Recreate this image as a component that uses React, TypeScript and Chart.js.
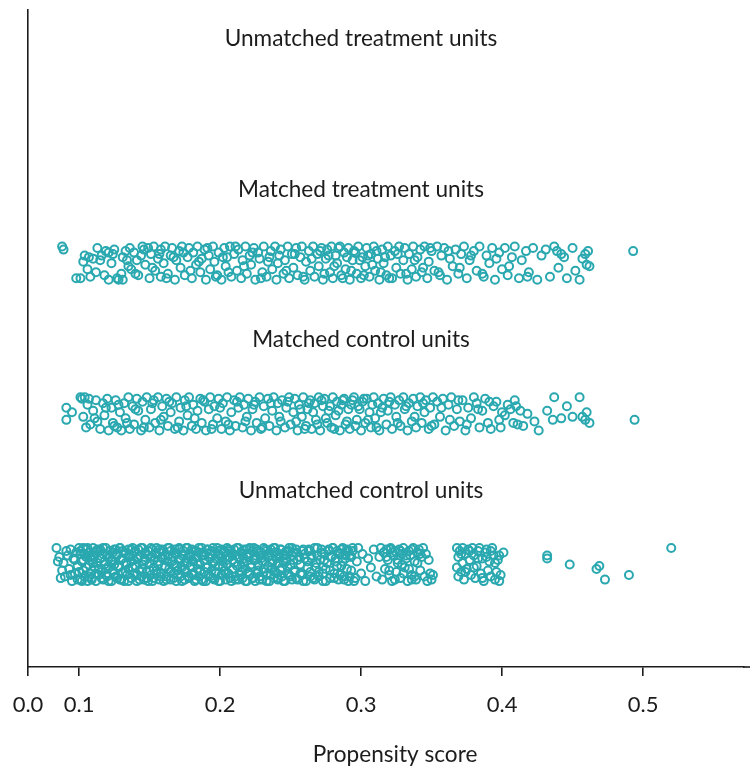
import React, { useEffect, useRef } from "react";
import { Chart, registerables } from "chart.js";

Chart.register(...registerables);

// Row labels (y positions: 1 = bottom row ... 4 = top row)
const rowLabels = [
  "Unmatched control units",
  "Matched control units",
  "Matched treatment units",
  "Unmatched treatment units",
];

const xTickValues = [0.1, 0.2, 0.3, 0.4, 0.5];
const xMin = 0.0638;
const xMax = 0.5716;
const xTitle = "Propensity score";

// [propensity score, vertical jitter]
const unmatchedTreatment: number[][] = [];

const matchedTreatment: number[][] = [
  [0.088,0.11],[0.089,0.09],[0.098,-0.10],[0.101,-0.10],[0.103,0.01],[0.104,0.05],[0.107,0.04],[0.108,-0.09],[0.110,0.03],[0.112,-0.06],
  [0.115,0.02],[0.116,0.05],[0.119,0.08],[0.121,0.07],[0.121,-0.11],[0.123,0.00],[0.125,0.09],[0.127,-0.10],[0.128,-0.11],[0.130,-0.07],
  [0.131,0.04],[0.133,0.08],[0.135,-0.02],[0.136,0.10],[0.137,-0.04],[0.139,0.07],[0.141,0.02],[0.142,-0.08],[0.144,0.05],[0.145,0.11],
  [0.147,-0.01],[0.149,0.10],[0.150,-0.10],[0.151,0.06],[0.153,0.11],[0.154,-0.05],[0.156,0.03],[0.158,0.09],[0.158,-0.09],[0.160,0.00],
  [0.161,0.11],[0.163,-0.07],[0.165,0.05],[0.166,0.10],[0.168,-0.11],[0.169,0.02],[0.171,0.08],[0.172,-0.03],[0.173,0.11],[0.175,-0.08],
  [0.177,0.04],[0.178,0.10],[0.180,-0.10],[0.181,0.07],[0.183,-0.01],[0.184,0.11],[0.186,-0.06],[0.187,0.03],[0.189,0.09],[0.190,-0.11],
  [0.192,0.05],[0.193,-0.04],[0.195,0.11],[0.196,0.01],[0.198,-0.08],[0.199,0.07],[0.201,-0.11],[0.203,0.10],[0.204,-0.02],[0.205,0.04],
  [0.207,0.11],[0.208,-0.09],[0.210,0.06],[0.212,-0.05],[0.213,0.09],[0.215,-0.10],[0.216,0.02],[0.218,0.11],[0.219,-0.07],[0.221,0.05],
  [0.222,-0.01],[0.224,0.10],[0.225,-0.11],[0.227,0.07],[0.228,0.03],[0.230,-0.06],[0.231,0.11],[0.233,-0.09],[0.234,0.01],[0.236,0.08],
  [0.237,-0.04],[0.239,0.11],[0.240,-0.11],[0.242,0.05],[0.243,0.09],[0.245,-0.07],[0.246,0.02],[0.248,0.11],[0.249,-0.10],[0.251,0.06],
  [0.252,-0.03],[0.254,0.10],[0.255,-0.08],[0.257,0.04],[0.258,0.11],[0.260,-0.11],[0.261,0.01],[0.263,0.08],[0.264,-0.05],[0.266,0.11],
  [0.267,-0.09],[0.269,0.06],[0.270,-0.02],[0.272,0.10],[0.273,-0.11],[0.275,0.03],[0.276,0.09],[0.278,-0.06],[0.279,0.11],[0.280,-0.10],
  [0.282,0.05],[0.283,0.00],[0.285,0.11],[0.286,-0.08],[0.288,0.07],[0.289,-0.04],[0.291,0.10],[0.292,-0.11],[0.294,0.02],[0.295,0.08],
  [0.297,-0.07],[0.298,0.11],[0.300,-0.10],[0.301,0.04],[0.303,-0.02],[0.304,0.10],[0.306,-0.09],[0.307,0.06],[0.309,0.11],[0.310,-0.05],
  [0.312,0.03],[0.313,-0.11],[0.315,0.09],[0.316,0.00],[0.318,-0.08],[0.319,0.11],[0.321,0.05],[0.322,-0.10],[0.324,0.08],[0.325,-0.03],
  [0.327,0.11],[0.328,-0.07],[0.330,0.02],[0.331,0.10],[0.333,-0.11],[0.334,0.06],[0.336,-0.04],[0.337,0.11],[0.339,-0.09],[0.340,0.04],
  [0.342,0.09],[0.343,-0.06],[0.345,0.11],[0.347,-0.10],[0.348,0.01],[0.350,0.08],[0.352,-0.05],[0.354,0.11],[0.356,-0.08],[0.357,0.05],
  [0.359,0.10],[0.361,-0.11],[0.363,0.03],[0.365,-0.02],[0.367,0.09],[0.369,-0.07],[0.371,0.06],[0.373,0.11],[0.375,-0.10],[0.377,0.02],
  [0.380,0.08],[0.382,-0.05],[0.384,0.11],[0.387,-0.09],[0.389,0.05],[0.391,0.00],[0.393,0.10],[0.395,-0.11],[0.398,0.07],[0.400,-0.04],
  [0.402,0.10],[0.404,-0.08],[0.407,0.04],[0.409,0.11],[0.412,-0.10],[0.414,0.02],[0.417,0.08],[0.419,-0.06],[0.422,0.10],[0.425,-0.11],
  [0.428,0.05],[0.431,0.09],[0.434,-0.09],[0.437,0.11],[0.440,-0.03],[0.442,0.06],[0.444,0.04],[0.446,-0.10],[0.450,0.10],[0.452,-0.05],
  [0.455,-0.11],[0.457,0.03],[0.459,0.06],[0.460,-0.01],[0.461,0.08],[0.462,-0.02],[0.493,0.08],
  [0.106,-0.04],[0.113,0.10],[0.118,-0.08],[0.124,0.06],[0.131,-0.11],[0.134,0.02],[0.140,-0.07],[0.146,0.09],[0.152,-0.03],[0.157,0.06],
  [0.162,-0.10],[0.167,0.04],[0.174,0.07],[0.179,-0.05],[0.185,0.01],[0.191,0.10],[0.197,-0.09],[0.202,0.04],[0.206,-0.06],[0.211,0.11],
  [0.217,-0.02],[0.223,0.07],[0.229,-0.10],[0.235,0.04],[0.241,0.00],[0.247,-0.05],[0.253,0.06],[0.259,-0.09],[0.265,0.03],[0.271,0.08],
  [0.274,-0.07],[0.277,0.05],[0.281,-0.02],[0.284,0.10],[0.287,-0.10],[0.290,0.04],[0.293,-0.05],[0.296,0.07],[0.299,0.02],[0.302,-0.08],
  [0.305,0.05],[0.308,-0.01],[0.311,0.08],[0.314,-0.06],[0.317,0.04],[0.320,-0.10],[0.326,0.06],[0.332,-0.07],[0.338,0.02],[0.344,-0.03],
  [0.349,0.10],[0.355,-0.06],[0.362,0.08],[0.370,-0.03],[0.378,0.05],[0.386,-0.07],[0.396,0.03],[0.405,-0.02],[0.418,-0.09],[0.439,0.08],
];

const matchedControl: number[][] = [
  [0.091,0.04],[0.091,-0.04],[0.095,0.01],[0.101,0.11],[0.102,0.10],[0.103,-0.02],[0.104,0.11],[0.105,-0.09],[0.106,0.06],[0.108,-0.07],
  [0.110,0.02],[0.112,0.09],[0.113,-0.05],[0.115,-0.10],[0.117,0.07],[0.118,-0.01],[0.120,0.10],[0.121,-0.11],[0.123,0.04],[0.124,-0.06],
  [0.126,0.09],[0.127,-0.09],[0.129,0.01],[0.130,-0.11],[0.132,0.07],[0.133,-0.03],[0.135,0.11],[0.136,-0.10],[0.138,0.05],[0.139,-0.07],
  [0.141,0.10],[0.142,0.02],[0.144,-0.11],[0.145,0.08],[0.147,-0.04],[0.148,0.11],[0.150,-0.09],[0.151,0.03],[0.153,0.09],[0.154,-0.06],
  [0.156,0.11],[0.157,-0.11],[0.159,0.05],[0.160,-0.02],[0.162,0.10],[0.163,-0.08],[0.165,0.01],[0.166,0.07],[0.168,-0.10],[0.169,0.11],
  [0.171,-0.05],[0.172,0.04],[0.174,-0.11],[0.175,0.09],[0.177,-0.01],[0.178,0.11],[0.180,-0.08],[0.181,0.06],[0.183,-0.10],[0.184,0.02],
  [0.186,0.10],[0.187,-0.06],[0.189,0.08],[0.190,-0.11],[0.192,0.03],[0.193,0.11],[0.195,-0.07],[0.196,0.05],[0.198,-0.03],[0.199,0.10],
  [0.201,-0.10],[0.202,0.07],[0.204,-0.05],[0.205,0.11],[0.207,-0.11],[0.208,0.01],[0.210,0.09],[0.211,-0.08],[0.213,0.04],[0.214,0.11],
  [0.216,-0.09],[0.217,0.06],[0.219,-0.02],[0.220,0.10],[0.222,-0.11],[0.223,0.03],[0.225,0.08],[0.226,-0.06],[0.228,0.11],[0.229,-0.10],
  [0.231,0.05],[0.232,-0.03],[0.234,0.10],[0.235,-0.08],[0.237,0.02],[0.238,0.11],[0.240,-0.11],[0.241,0.07],[0.243,-0.05],[0.244,0.09],
  [0.246,-0.09],[0.247,0.04],[0.249,0.11],[0.250,-0.07],[0.252,0.01],[0.253,0.10],[0.255,-0.11],[0.256,0.06],[0.258,-0.02],[0.259,0.11],
  [0.261,-0.08],[0.262,0.03],[0.264,0.09],[0.265,-0.10],[0.267,0.07],[0.268,-0.04],[0.270,0.11],[0.271,-0.11],[0.273,0.05],[0.274,0.10],
  [0.276,-0.06],[0.277,0.02],[0.279,-0.09],[0.280,0.11],[0.282,-0.01],[0.283,0.08],[0.285,-0.11],[0.286,0.06],[0.288,0.10],[0.289,-0.07],
  [0.291,0.03],[0.292,-0.10],[0.294,0.09],[0.295,0.11],[0.297,-0.04],[0.298,0.05],[0.300,-0.11],[0.301,0.08],[0.303,-0.06],[0.304,0.10],
  [0.306,0.01],[0.307,-0.09],[0.309,0.11],[0.310,-0.03],[0.312,0.07],[0.313,-0.11],[0.315,0.04],[0.316,0.10],[0.318,-0.07],[0.319,0.02],
  [0.321,0.11],[0.322,-0.10],[0.324,0.06],[0.325,-0.02],[0.327,0.09],[0.328,-0.08],[0.330,0.11],[0.331,0.03],[0.333,-0.11],[0.334,0.07],
  [0.336,-0.05],[0.337,0.10],[0.339,-0.09],[0.340,0.05],[0.342,0.11],[0.343,-0.06],[0.345,0.01],[0.346,0.09],[0.348,-0.10],[0.349,0.04],
  [0.351,0.11],[0.352,-0.07],[0.354,0.08],[0.356,-0.02],[0.358,0.10],[0.360,-0.11],[0.362,0.06],[0.364,0.11],[0.366,-0.08],[0.368,0.03],
  [0.370,-0.05],[0.372,0.09],[0.374,-0.11],[0.376,0.04],[0.378,-0.03],[0.380,0.11],[0.382,0.07],[0.384,-0.09],[0.386,0.02],[0.388,0.10],
  [0.390,-0.06],[0.392,-0.10],[0.394,0.05],[0.396,0.08],[0.398,-0.04],[0.400,0.01],[0.402,-0.01],[0.404,0.06],[0.406,0.03],[0.408,-0.06],
  [0.410,0.05],[0.411,-0.07],[0.413,0.02],[0.415,-0.08],[0.418,0.00],[0.423,-0.05],[0.426,-0.11],[0.432,0.02],[0.436,-0.04],[0.437,0.11],
  [0.442,-0.03],[0.446,0.05],[0.450,-0.02],[0.455,0.11],[0.457,-0.02],[0.459,-0.04],[0.460,0.01],[0.462,-0.06],[0.494,-0.04],
  [0.107,0.10],[0.111,-0.03],[0.119,0.04],[0.125,-0.08],[0.128,0.06],[0.134,-0.06],[0.140,0.03],[0.146,-0.09],[0.152,0.07],[0.158,-0.04],
  [0.164,0.08],[0.170,-0.09],[0.176,0.05],[0.182,-0.03],[0.188,0.09],[0.194,-0.10],[0.200,0.04],[0.206,-0.07],[0.212,0.08],[0.218,-0.05],
  [0.224,0.06],[0.230,-0.09],[0.236,0.07],[0.242,-0.02],[0.248,0.08],[0.254,-0.05],[0.257,0.03],[0.260,-0.10],[0.263,0.07],[0.266,0.01],
  [0.269,-0.07],[0.272,0.09],[0.275,-0.03],[0.278,0.05],[0.281,-0.10],[0.284,0.02],[0.287,0.09],[0.290,-0.05],[0.293,0.06],[0.296,-0.08],
  [0.299,0.03],[0.302,0.10],[0.305,-0.04],[0.308,0.06],[0.311,-0.09],[0.314,0.01],[0.320,0.08],[0.326,-0.06],[0.332,0.05],[0.338,-0.02],
  [0.344,0.07],[0.350,-0.08],[0.357,0.04],[0.363,-0.04],[0.369,0.09],[0.375,-0.07],[0.383,0.03],[0.391,0.08],[0.399,-0.09],[0.409,0.09],
];

const unmatchedControl: number[][] = [
  [0.084,0.11],[0.085,0.02],[0.087,-0.09],[0.089,0.01],[0.090,-0.08],[0.092,0.06],[0.093,-0.03],[0.094,0.10],[0.095,-0.11],[0.096,0.04],
  [0.097,-0.06],[0.098,0.08],[0.099,-0.01],[0.100,0.11],
  [0.086,0.05],[0.088,-0.04],[0.091,0.09],[0.094,-0.07],[0.097,0.03],[0.099,-0.10],
  [0.101,0.07],[0.101,-0.10],[0.102,0.02],[0.103,0.11],[0.103,-0.04],[0.104,-0.08],[0.105,0.05],[0.105,0.10],[0.106,-0.11],[0.107,0.00],
  [0.107,0.08],[0.108,-0.06],[0.109,0.03],[0.109,-0.09],[0.110,0.11],[0.111,-0.02],[0.111,0.06],[0.112,-0.11],[0.113,0.09],[0.113,0.01],
  [0.114,-0.07],[0.115,0.04],[0.115,0.10],[0.116,-0.05],[0.117,-0.10],[0.117,0.07],[0.118,0.02],[0.119,-0.03],[0.119,0.11],[0.120,-0.08],
  [0.121,0.05],[0.121,-0.01],[0.122,0.09],[0.123,-0.11],[0.123,0.03],[0.124,0.08],[0.125,-0.06],[0.125,0.00],[0.126,0.10],[0.127,-0.09],
  [0.127,0.06],[0.128,-0.02],[0.129,0.11],[0.129,-0.10],[0.130,0.04],[0.131,-0.05],[0.131,0.09],[0.132,-0.11],[0.133,0.01],[0.133,0.07],
  [0.134,-0.07],[0.135,0.10],[0.135,-0.03],[0.136,0.05],[0.137,-0.09],[0.137,0.02],[0.138,0.11],[0.139,-0.06],[0.139,0.08],[0.140,-0.01],
  [0.141,-0.11],[0.141,0.04],[0.142,0.10],[0.143,-0.04],[0.143,0.06],[0.144,-0.08],[0.145,0.00],[0.145,0.11],[0.146,-0.10],[0.147,0.07],
  [0.147,0.03],[0.148,-0.05],[0.149,0.09],[0.149,-0.11],[0.150,0.01],[0.151,-0.07],[0.151,0.05],[0.152,0.10],[0.153,-0.02],[0.153,-0.09],
  [0.154,0.07],[0.155,0.11],[0.155,-0.04],[0.156,0.02],[0.157,-0.10],[0.157,0.08],[0.158,-0.06],[0.159,0.04],[0.159,0.10],[0.160,-0.11],
  [0.161,-0.01],[0.161,0.06],[0.162,-0.08],[0.163,0.11],[0.163,0.02],[0.164,-0.03],[0.165,0.09],[0.165,-0.10],[0.166,0.05],[0.167,-0.06],
  [0.167,0.00],[0.168,0.10],[0.169,-0.11],[0.169,0.07],[0.170,-0.04],[0.171,0.03],[0.171,0.11],[0.172,-0.08],[0.173,0.06],[0.173,-0.02],
  [0.174,0.09],[0.175,-0.10],[0.175,0.01],[0.176,-0.05],[0.177,0.11],[0.177,0.04],[0.178,-0.09],[0.179,0.07],[0.179,-0.01],[0.180,0.10],
  [0.181,-0.07],[0.181,0.02],[0.182,-0.11],[0.183,0.05],[0.183,0.09],[0.184,-0.03],[0.185,0.11],[0.185,-0.08],[0.186,0.00],[0.187,0.06],
  [0.187,-0.10],[0.188,0.08],[0.189,-0.05],[0.189,0.03],[0.190,-0.11],[0.191,0.10],[0.191,-0.02],[0.192,0.05],[0.193,-0.08],[0.193,0.07],
  [0.194,-0.04],[0.195,0.11],[0.195,0.01],[0.196,-0.10],[0.197,0.04],[0.197,-0.06],[0.198,0.09],[0.199,-0.01],[0.199,-0.11],[0.200,0.06],
  [0.201,0.10],[0.201,-0.07],[0.202,0.02],[0.203,-0.04],[0.203,0.08],[0.204,-0.10],[0.205,0.11],[0.205,0.00],[0.206,-0.06],[0.207,0.05],
  [0.207,0.09],[0.208,-0.11],[0.209,0.03],[0.209,-0.03],[0.210,0.10],[0.211,-0.08],[0.211,0.06],[0.212,-0.01],[0.213,0.11],[0.213,-0.10],
  [0.214,0.04],[0.215,-0.05],[0.215,0.08],[0.216,-0.09],[0.217,0.01],[0.217,0.10],[0.218,-0.03],[0.219,0.07],[0.219,-0.11],[0.220,0.05],
  [0.221,-0.06],[0.221,0.11],[0.222,-0.02],[0.223,0.09],[0.223,-0.09],[0.224,0.03],[0.225,-0.11],[0.225,0.06],[0.226,0.10],[0.227,-0.04],
  [0.227,0.00],[0.228,-0.08],[0.229,0.08],[0.229,0.04],[0.230,-0.10],[0.231,0.11],[0.231,-0.05],[0.232,0.02],[0.233,-0.07],[0.233,0.09],
  [0.234,-0.01],[0.235,0.06],[0.235,-0.11],[0.236,0.10],[0.237,-0.03],[0.237,0.03],[0.238,-0.09],[0.239,0.08],[0.239,0.11],[0.240,-0.06],
  [0.241,0.01],[0.241,-0.10],[0.242,0.05],[0.243,0.10],[0.243,-0.04],[0.244,-0.08],[0.245,0.07],[0.245,0.02],[0.246,-0.11],[0.247,0.04],
  [0.247,0.09],[0.248,-0.02],[0.249,-0.07],[0.249,0.11],[0.250,0.00],[0.251,0.06],[0.251,-0.10],[0.252,0.08],[0.253,-0.05],[0.254,0.10],
  [0.254,-0.09],[0.255,0.03],
  [0.100,-0.05],[0.101,0.09],[0.102,-0.11],[0.103,0.03],[0.104,0.07],[0.105,-0.02],[0.106,0.11],[0.107,-0.08],[0.108,0.05],[0.109,-0.10],
  [0.110,0.01],[0.111,0.08],[0.112,-0.06],[0.113,0.10],[0.114,-0.03],[0.115,0.04],[0.116,-0.09],[0.117,0.11],[0.118,0.00],[0.119,-0.07],
  [0.120,0.06],[0.121,-0.11],[0.122,0.09],[0.123,0.02],[0.124,-0.04],[0.125,0.10],[0.126,-0.08],[0.127,0.07],[0.128,-0.01],[0.129,0.11],
  [0.130,-0.10],[0.131,0.04],[0.132,0.08],[0.133,-0.05],[0.134,0.00],[0.135,-0.11],[0.136,0.06],[0.137,0.10],[0.138,-0.02],[0.139,0.03],
  [0.140,0.09],[0.141,-0.07],[0.142,0.05],[0.143,-0.10],[0.144,0.11],[0.145,-0.03],[0.146,0.02],[0.147,0.08],[0.148,-0.09],[0.149,0.06],
  [0.150,-0.04],[0.151,0.11],[0.152,-0.11],[0.153,0.03],[0.154,0.07],[0.155,-0.06],[0.156,0.00],[0.157,0.10],[0.158,-0.08],[0.159,0.05],
  [0.160,0.09],[0.161,-0.02],[0.162,-0.10],[0.163,0.06],[0.164,0.11],[0.165,-0.05],[0.166,0.02],[0.167,-0.09],[0.168,0.08],[0.169,-0.01],
  [0.170,-0.07],[0.171,0.10],[0.172,0.04],[0.173,-0.11],[0.174,0.07],[0.175,-0.03],[0.176,0.11],[0.177,0.01],[0.178,-0.08],[0.179,0.05],
  [0.180,0.03],[0.181,-0.06],[0.182,0.09],[0.183,-0.10],[0.184,0.00],[0.185,0.08],[0.186,-0.04],[0.187,0.11],[0.188,-0.11],[0.189,0.06],
  [0.190,-0.02],[0.191,0.10],[0.192,-0.07],[0.193,0.04],[0.194,0.09],[0.195,-0.09],[0.196,0.02],[0.197,-0.05],[0.198,0.11],[0.199,0.07],
  [0.200,-0.11],[0.201,0.05],[0.202,-0.01],[0.203,0.09],[0.204,-0.06],[0.205,0.03],[0.206,0.10],[0.207,-0.09],[0.208,0.07],[0.209,-0.03],
  [0.210,0.01],[0.211,-0.10],[0.212,0.11],[0.213,0.05],[0.214,-0.07],[0.215,0.08],[0.216,-0.02],[0.217,0.04],[0.218,-0.11],[0.219,0.10],
  [0.220,-0.05],[0.221,0.07],[0.222,0.00],[0.223,-0.09],[0.224,0.11],[0.225,0.03],[0.226,-0.06],[0.227,0.09],[0.228,-0.10],[0.229,0.06],
  [0.230,0.02],[0.231,-0.03],[0.232,0.10],[0.233,-0.11],[0.234,0.05],[0.235,0.08],[0.236,-0.07],[0.237,0.01],[0.238,0.11],[0.239,-0.05],
  [0.240,0.04],[0.241,-0.09],[0.242,0.07],[0.243,0.10],[0.244,-0.02],[0.245,-0.11],[0.246,0.06],[0.247,0.02],[0.248,-0.06],[0.249,0.09],
  [0.250,-0.08],[0.251,0.11],[0.252,0.03],[0.253,-0.04],[0.254,0.08],[0.255,-0.10],[0.256,0.05],[0.257,0.00],[0.258,-0.07],[0.259,0.10],
  [0.260,0.07],[0.261,-0.11],[0.262,0.02],[0.263,0.09],[0.264,-0.05],[0.265,0.04],[0.266,-0.09],[0.267,0.11],[0.268,-0.02],[0.269,0.06],
  [0.270,-0.08],[0.271,0.03],[0.272,0.10],[0.273,-0.06],[0.274,0.07],[0.275,-0.11],[0.276,0.01],[0.277,0.09],[0.278,-0.04],[0.279,0.05],
  [0.280,0.11],[0.281,-0.09],[0.282,0.04],[0.283,-0.01],[0.284,0.08],[0.285,-0.07],[0.286,0.10],[0.287,0.02],[0.288,-0.10],[0.289,0.06],
  [0.290,-0.03],[0.291,0.09],[0.292,-0.08],[0.293,0.05],[0.294,0.11],[0.295,-0.11],
  [0.257,-0.06],[0.258,0.09],[0.259,-0.11],[0.260,0.04],[0.262,-0.02],[0.263,0.10],[0.264,-0.08],[0.265,0.06],[0.267,-0.10],[0.268,0.01],
  [0.269,0.11],[0.270,-0.05],[0.272,0.08],[0.273,-0.11],[0.274,0.03],[0.275,-0.03],[0.277,0.10],[0.278,-0.09],[0.279,0.05],[0.280,0.11],
  [0.281,-0.06],[0.282,0.02],[0.283,0.09],[0.284,-0.10],[0.285,0.07],[0.286,-0.01],[0.287,0.11],[0.288,-0.08],[0.289,0.04],[0.290,0.10],
  [0.291,-0.11],[0.292,0.06],[0.293,-0.04],[0.294,0.09],[0.296,-0.09],[0.297,0.02],[0.298,0.11],[0.300,-0.06],[0.301,0.07],[0.303,-0.11],
  [0.305,0.04],[0.307,-0.02],[0.309,0.10],[0.311,-0.08],[0.313,0.05],[0.314,0.11],[0.315,-0.10],[0.316,0.08],[0.317,-0.03],[0.318,0.10],
  [0.319,0.03],[0.320,-0.07],[0.321,0.11],[0.322,-0.11],[0.323,0.06],[0.324,0.09],[0.325,-0.05],[0.326,0.01],[0.327,0.10],[0.328,-0.09],
  [0.329,0.07],[0.330,0.11],[0.331,-0.02],[0.332,0.04],[0.333,-0.11],[0.334,0.09],[0.335,0.06],[0.336,-0.07],[0.337,0.11],[0.338,0.02],
  [0.339,-0.10],[0.340,0.08],[0.341,0.10],[0.342,-0.04],[0.343,0.05],[0.344,0.11],[0.345,-0.08],[0.346,0.07],[0.347,-0.11],[0.348,0.03],
  [0.349,-0.06],[0.350,-0.10],[0.351,-0.07],
  [0.318,0.05],[0.320,-0.04],[0.322,0.08],[0.324,-0.10],[0.326,0.03],[0.328,0.09],[0.330,-0.06],[0.332,0.06],[0.334,-0.03],[0.336,0.10],
  [0.338,-0.08],[0.340,0.01],[0.342,0.07],[0.336,-0.10],[0.329,0.00],[0.321,0.10],
  [0.368,0.11],[0.368,-0.02],[0.369,0.05],[0.369,-0.08],[0.370,0.09],[0.371,-0.05],[0.372,0.01],[0.372,0.11],[0.373,-0.10],[0.374,0.07],
  [0.375,-0.03],[0.376,0.10],[0.377,0.03],[0.378,-0.07],[0.379,0.11],[0.380,0.06],[0.381,-0.09],[0.382,-0.01],[0.383,0.09],[0.384,0.11],
  [0.385,-0.06],[0.386,0.04],[0.387,-0.11],[0.388,0.08],[0.389,0.10],[0.390,-0.04],[0.391,0.02],[0.392,-0.08],[0.393,0.11],[0.394,0.06],
  [0.395,-0.10],[0.396,-0.05],[0.397,0.03],[0.398,-0.11],[0.399,-0.07],[0.401,0.08],
  [0.371,0.07],[0.374,-0.05],[0.377,0.09],[0.380,-0.02],[0.383,0.04],[0.386,-0.09],[0.389,0.05],[0.392,0.09],[0.395,0.01],[0.398,0.06],
  [0.432,0.06],[0.432,0.04],[0.448,0.00],[0.467,-0.03],[0.469,-0.01],[0.473,-0.10],[0.490,-0.07],[0.520,0.11],
];

const pointColor = "#2aa8b0";
const inkColor = "#1c1c1c";
const fontFamily = "Lato";
const fontSize = 22;
const labelFontSize = 22.6;

function toPoints(rows: number[][], row: number) {
  return rows.map(([x, j]) => ({ x, y: row + j }));
}

const textPlugin = {
  id: "rowLabels",
  afterDraw(chart: any) {
    const { ctx, scales, chartArea } = chart;
    const xs = scales.x;
    const ys = scales.y;
    ctx.save();
    // extend the x axis line to the right edge of the canvas
    ctx.strokeStyle = inkColor;
    ctx.lineWidth = 1.6;
    ctx.beginPath();
    ctx.moveTo(chartArea.right - 1, chartArea.bottom);
    ctx.lineTo(chart.width, chartArea.bottom);
    ctx.stroke();

    ctx.font = `${labelFontSize}px ${fontFamily}`;
    ctx.fillStyle = inkColor;
    ctx.textAlign = "center";
    ctx.textBaseline = "middle";
    rowLabels.forEach((label, i) => {
      ctx.fillText(label, xs.getPixelForValue(0.3), ys.getPixelForValue(i + 1 + 0.49));
    });
    // axis title
    ctx.fillText(xTitle, (chartArea.left + chart.width) / 2 + 6, chartArea.bottom + 88);
    ctx.restore();
  },
};

export default function App() {
  const canvasRef = useRef<HTMLCanvasElement | null>(null);

  useEffect(() => {
    document.body.style.margin = "0";
    const canvas = canvasRef.current;
    if (!canvas) return;
    const ds = (data: number[][], row: number) => ({
      data: toPoints(data, row),
      pointStyle: "circle",
      pointRadius: 4,
      pointBorderWidth: 2,
      pointBorderColor: pointColor,
      pointBackgroundColor: "rgba(0,0,0,0)",
      showLine: false,
    });
    const chart = new Chart(canvas, {
      type: "scatter",
      data: {
        datasets: [
          ds(unmatchedControl, 1),
          ds(matchedControl, 2),
          ds(matchedTreatment, 3),
          ds(unmatchedTreatment, 4),
        ],
      },
      options: {
        animation: false,
        responsive: false,
        maintainAspectRatio: false,
        devicePixelRatio: 1,
        layout: { padding: { top: 10, right: 0, left: 0, bottom: 0 } },
        plugins: {
          legend: { display: false },
          tooltip: { enabled: false },
        },
        scales: {
          x: {
            type: "linear",
            min: xMin,
            max: xMax,
            afterBuildTicks(scale: any) {
              scale.ticks = [{ value: xMin }, ...xTickValues.map((v) => ({ value: v }))];
            },
            afterFit(scale: any) {
              scale.height = 100;
              scale.paddingLeft = 0;
              scale.paddingRight = 0;
            },
            ticks: {
              autoSkip: false,
              maxRotation: 0,
              padding: 16,
              color: inkColor,
              font: { family: fontFamily, size: fontSize },
              callback: (v: any) => (Number(v) < 0.07 ? "0.0" : Number(v).toFixed(1)),
            },
            grid: {
              drawOnChartArea: false,
              drawTicks: true,
              tickLength: 9,
              color: inkColor,
              lineWidth: 1.6,
            },
            border: { display: true, color: inkColor, width: 1.6 },
            title: { display: false },
          },
          y: {
            type: "linear",
            min: 0.32,
            max: 4.68,
            afterFit(scale: any) {
              scale.width = 28;
            },
            ticks: { display: false },
            grid: { display: false },
            border: { display: true, color: inkColor, width: 1.6 },
          },
        },
      },
      plugins: [textPlugin],
    } as any);
    return () => chart.destroy();
  }, []);

  return (
    <div style={{ width: 750, height: 767, position: "relative" }}>
      <canvas ref={canvasRef} width={750} height={767} style={{ display: "block" }} />
    </div>
  );
}
